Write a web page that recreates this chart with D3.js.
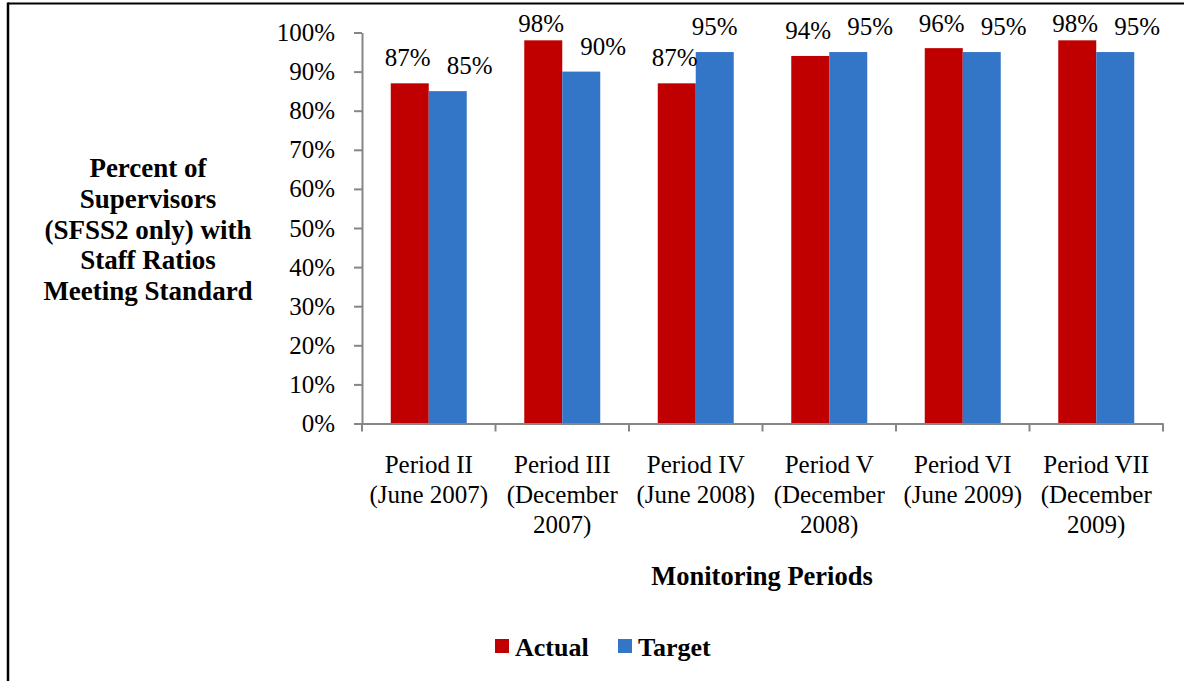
<!DOCTYPE html>
<html>
<head>
<meta charset="utf-8">
<script src="https://cdn.jsdelivr.net/npm/d3@7"></script>
<style>
  html, body { margin: 0; padding: 0; background: #fff; }
  svg { display: block; }
  text { font-family: "Liberation Serif", "Times New Roman", serif; fill: #000; }
</style>
</head>
<body>
<svg id="chart" width="1184" height="681"></svg>
<script>
// ---- data ----
const categories = [
  ["Period II", "(June 2007)"],
  ["Period III", "(December", "2007)"],
  ["Period IV", "(June 2008)"],
  ["Period V", "(December", "2008)"],
  ["Period VI", "(June 2009)"],
  ["Period VII", "(December", "2009)"]
];
const seriesNames = ["Actual", "Target"];
const actualValues = [0.87, 0.98, 0.87, 0.94, 0.96, 0.98];
const targetValues = [0.85, 0.90, 0.95, 0.95, 0.95, 0.95];
const yTicks = [0, 0.1, 0.2, 0.3, 0.4, 0.5, 0.6, 0.7, 0.8, 0.9, 1.0];
const yTitleLines = ["Percent of", "Supervisors", "(SFSS2 only) with", "Staff Ratios", "Meeting Standard"];
const xTitle = "Monitoring Periods";
const colors = { Actual: "#C00000", Target: "#3375C6" };

// ---- layout ----
const svg = d3.select("#chart");
const plotLeft = 362, plotRight = 1163, plotTop = 32.5, plotBottom = 423.5;
const catKeys = categories.map((c, i) => i);

const x0 = d3.scaleBand().domain(catKeys).range([plotLeft, plotRight]).paddingInner(0).paddingOuter(0);
const x1 = d3.scaleBand().domain(seriesNames).range([0, x0.bandwidth()]).paddingInner(0).paddingOuter(0.757);
const y = d3.scaleLinear().domain([0, 1]).range([plotBottom, plotTop]);

// border
svg.append("line").attr("x1", 8).attr("x2", 1184).attr("y1", 3.5).attr("y2", 3.5)
  .attr("stroke", "#000").attr("stroke-width", 2);
svg.append("line").attr("x1", 8).attr("x2", 8).attr("y1", 2.5).attr("y2", 681)
  .attr("stroke", "#000").attr("stroke-width", 2.5);

// bars
const rows = catKeys.map(i => ({ i, Actual: actualValues[i], Target: targetValues[i] }));
const groups = svg.append("g").selectAll("g.cat").data(rows).join("g")
  .attr("class", "cat")
  .attr("transform", d => `translate(${x0(d.i)},0)`);
groups.selectAll("rect").data(d => seriesNames.map(s => ({ s, v: d[s] }))).join("rect")
  .attr("x", d => x1(d.s))
  .attr("width", x1.bandwidth())
  .attr("y", d => y(d.v))
  .attr("height", d => y(0) - y(d.v))
  .attr("fill", d => colors[d.s]);

// y axis
const yAxis = d3.axisLeft(y).tickValues(yTicks).tickFormat(d3.format(".0%"))
  .tickSize(8).tickSizeOuter(0).tickPadding(19);
const yg = svg.append("g").attr("transform", `translate(${plotLeft},0)`).call(yAxis);
yg.selectAll("path, line").attr("stroke", "#868686").attr("stroke-width", 2);
yg.selectAll("text").attr("font-size", 25).attr("font-family", "Liberation Serif, serif").attr("fill", "#000");

// x axis
const xAxis = d3.axisBottom(x0).tickSize(0).tickSizeOuter(0).tickFormat("");
const xg = svg.append("g").attr("transform", `translate(0,${plotBottom})`).call(xAxis);
xg.select("path").attr("stroke", "#868686").attr("stroke-width", 2);
const boundaries = catKeys.map(i => x0(i)).concat([x0(catKeys[catKeys.length - 1]) + x0.bandwidth()]);
xg.selectAll("line.bt").data(boundaries).join("line").attr("class", "bt")
  .attr("x1", d => d).attr("x2", d => d).attr("y1", 0).attr("y2", 8)
  .attr("stroke", "#868686").attr("stroke-width", 2);

// category labels
const catText = svg.append("g").selectAll("text").data(rows).join("text")
  .attr("x", d => x0(d.i) + x0.bandwidth() / 2)
  .attr("y", 473)
  .attr("text-anchor", "middle")
  .attr("font-size", 25);
catText.selectAll("tspan").data(d => categories[d.i].map(t => ({ t, cx: x0(d.i) + x0.bandwidth() / 2 }))).join("tspan")
  .attr("x", d => d.cx)
  .attr("dy", (d, k) => k === 0 ? 0 : 30)
  .text(d => d.t);

// data labels (placed above bars, nudged right when they would collide)
const fmt = d3.format(".0%");
rows.forEach(d => {
  const cx = x0(d.i);
  const ya = Math.max(y(d.Actual) - 17, 32);
  const yb = Math.max(y(d.Target) - 17, 33);
  const dxT = Math.abs(ya - yb) < 26 ? 22 : 0;
  svg.append("text").attr("x", cx + x1("Actual") + x1.bandwidth() / 2 - 2).attr("y", ya)
    .attr("text-anchor", "middle").attr("font-size", 25).text(fmt(d.Actual));
  svg.append("text").attr("x", cx + x1("Target") + x1.bandwidth() / 2 + dxT).attr("y", yb)
    .attr("text-anchor", "middle").attr("font-size", 25).text(fmt(d.Target));
});

// y title
const yTitle = svg.append("text").attr("x", 148).attr("y", 177)
  .attr("text-anchor", "middle").attr("font-size", 27).attr("font-weight", "bold");
yTitle.selectAll("tspan").data(yTitleLines).join("tspan")
  .attr("x", 148).attr("dy", (d, k) => k === 0 ? 0 : 30.8).text(d => d);

// x title
svg.append("text").attr("x", 762).attr("y", 585).attr("text-anchor", "middle")
  .attr("font-size", 26.5).attr("font-weight", "bold").text(xTitle);

// legend
const legendX = [495, 618];
const lg = svg.append("g").selectAll("g").data(seriesNames).join("g")
  .attr("transform", (d, k) => `translate(${legendX[k]},639)`);
lg.append("rect").attr("width", 14).attr("height", 14).attr("fill", d => colors[d]);
lg.append("text").attr("x", 20).attr("y", 17).attr("font-size", 26).attr("font-weight", "bold").text(d => d);
</script>
</body>
</html>
